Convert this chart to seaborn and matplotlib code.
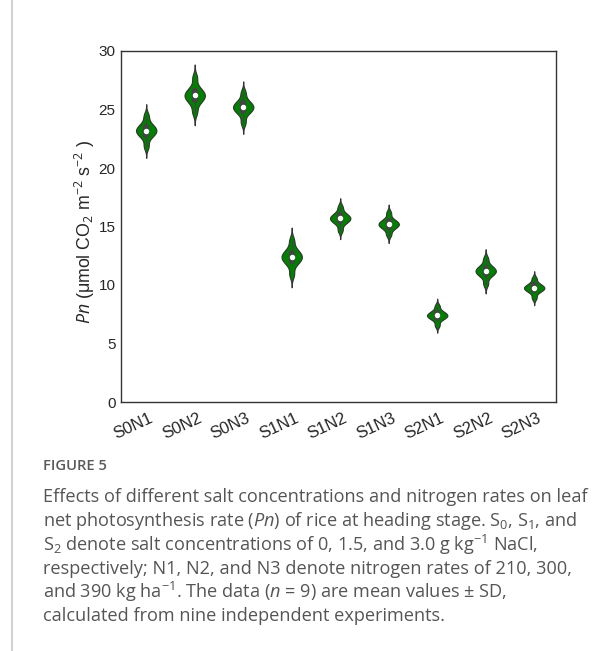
import matplotlib
matplotlib.use("Agg")
import matplotlib.pyplot as plt
import matplotlib.transforms as mtransforms
from matplotlib.lines import Line2D
import seaborn as sns
import pandas as pd

categories = ["S0N1", "S0N2", "S0N3", "S1N1", "S1N2", "S1N3", "S2N1", "S2N2", "S2N3"]
s0n1 = [21.86, 22.61, 22.86, 23.07, 23.20, 23.33, 23.54, 23.79, 24.46]
s0n2 = [24.78, 25.54, 25.82, 26.06, 26.20, 26.34, 26.58, 26.87, 27.72]
s0n3 = [23.89, 24.63, 24.87, 25.08, 25.20, 25.32, 25.53, 25.77, 26.43]
s1n1 = [10.91, 11.75, 12.03, 12.26, 12.40, 12.54, 12.77, 13.05, 13.80]
s1n2 = [14.68, 15.25, 15.44, 15.60, 15.70, 15.80, 15.96, 16.15, 16.66]
s1n3 = [14.30, 14.78, 14.96, 15.11, 15.20, 15.29, 15.44, 15.62, 16.16]
s2n1 = [6.55, 7.03, 7.19, 7.32, 7.40, 7.48, 7.61, 7.77, 8.20]
s2n2 = [10.10, 10.72, 10.92, 11.10, 11.20, 11.30, 11.48, 11.68, 12.24]
s2n3 = [8.90, 9.38, 9.54, 9.67, 9.75, 9.83, 9.96, 10.12, 10.55]
series = [s0n1, s0n2, s0n3, s1n1, s1n2, s1n3, s2n1, s2n2, s2n3]
y_ticks = [0, 5, 10, 15, 20, 25, 30]

rows = []
for cat, vals in zip(categories, series):
    for v in vals:
        rows.append({"group": cat, "Pn": v})
df = pd.DataFrame(rows)

sns.set_style("white")
plt.rcParams["font.family"] = ["Liberation Sans", "DejaVu Sans"]
plt.rcParams["mathtext.fontset"] = "custom"
plt.rcParams["mathtext.rm"] = "Liberation Sans"
plt.rcParams["mathtext.it"] = "Liberation Sans:italic"

fig = plt.figure(figsize=(6.08, 6.51), dpi=100)
ax = fig.add_axes([121/608, 1-402/651, (556-121)/608, (402-51)/651])

sns.violinplot(data=df, x="group", y="Pn", order=categories, ax=ax,
               color="#008000", saturation=1, width=0.42, density_norm="width",
               cut=3, bw_adjust=0.7, inner="box", linewidth=0.8, linecolor="#333333",
               inner_kws=dict(box_width=4.5, whis_width=0.8, color="#444444",
                              marker="o", markersize=3))

ax.set_xlim(-0.52, 8.45)
ax.set_ylim(0, 30)
ax.set_yticks(y_ticks)
ax.set_yticklabels([str(t) for t in y_ticks], fontsize=11)
ax.set_xlabel("")
ax.set_ylabel(r"$\mathit{Pn}$ (μmol CO$_2$ m$^{-2}$ s$^{-2}$ )", fontsize=12.8)
ax.yaxis.set_label_coords(-0.055, 0.485)

for s in ax.spines.values():
    s.set_visible(True)
    s.set_color("#333333")
    s.set_linewidth(1.0)

ax.tick_params(axis="y", direction="in", length=5, width=0.8, color="#333333", pad=4)
ax.tick_params(axis="x", direction="in", length=5.5, width=0.8, color="#333333", pad=6)
ax.set_xticks(range(len(categories)))
ax.set_xticklabels(categories, rotation=25, ha="right", rotation_mode="anchor", fontsize=12)
offset = mtransforms.ScaledTranslation(3/100, 0, fig.dpi_scale_trans)
for lab in ax.get_xticklabels():
    lab.set_transform(lab.get_transform() + offset)

# caption
fig.add_artist(Line2D([12/608, 12/608], [0, 1], color="#c8c8c8", linewidth=1.2,
                      transform=fig.transFigure))
fig.text(43/608, 1-466/651, "FIGURE 5", fontsize=10.6, color="#5a5a5a",
         family=["Open Sans", "DejaVu Sans"], fontweight="semibold", va="center")
cap_lines = [
    "Effects of different salt concentrations and nitrogen rates on leaf",
    r"net photosynthesis rate ($\mathit{Pn}$) of rice at heading stage. S$_0$, S$_1$, and",
    r"S$_2$ denote salt concentrations of 0, 1.5, and 3.0 g kg$^{-1}$ NaCl,",
    "respectively; N1, N2, and N3 denote nitrogen rates of 210, 300,",
    r"and 390 kg ha$^{-1}$. The data ($\mathit{n}$ = 9) are mean values ± SD,",
    "calculated from nine independent experiments.",
]
cap_y = [497, 521, 545, 569, 592, 616]
plt.rcParams["mathtext.rm"] = "Open Sans"
plt.rcParams["mathtext.it"] = "Open Sans:italic"
for line, yy in zip(cap_lines, cap_y):
    fig.text(43/608, 1-yy/651, line, fontsize=13.1, color="#555555",
             family=["Open Sans", "DejaVu Sans"], va="center")

fig.savefig("out.png", dpi=100)
